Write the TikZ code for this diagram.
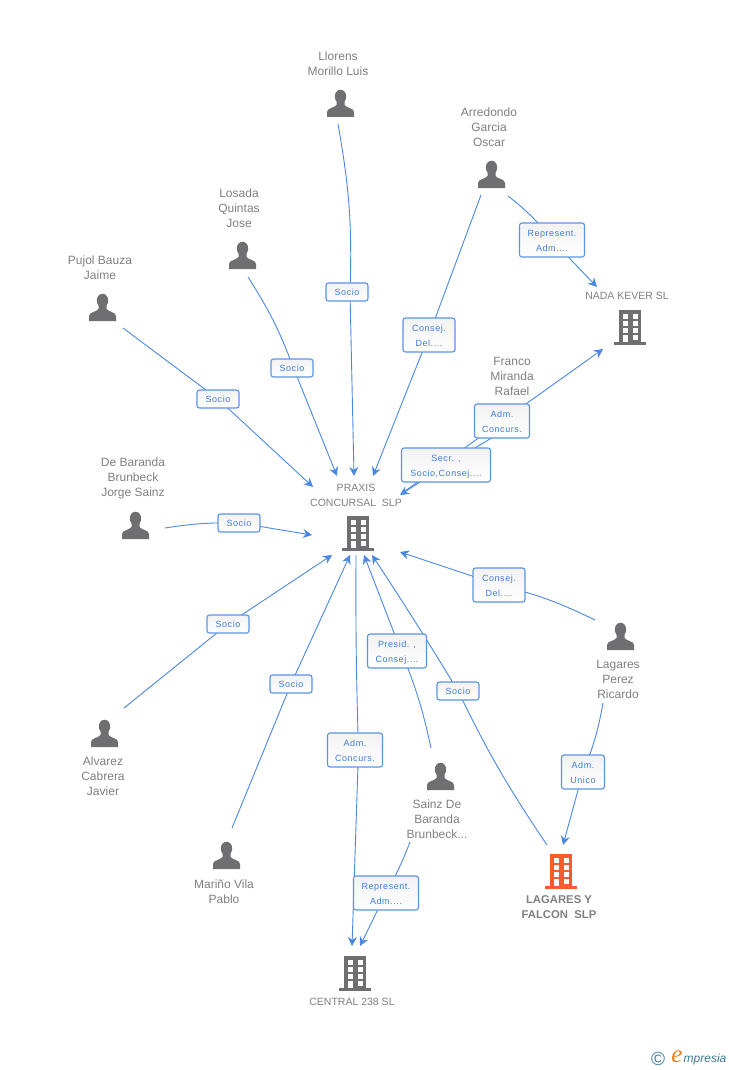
\documentclass[tikz,border=0pt]{standalone}
\usepackage{fontspec}
\setmainfont{Liberation Sans}
\usetikzlibrary{arrows.meta,backgrounds}
\newfontfamily\boxfont[LetterSpace=6]{Liberation Sans}
\newfontfamily\logoserif{Liberation Serif}
\newcommand{\twolines}[2]{\rule{0pt}{10pt}#1\\#2\rule[-2.2pt]{0pt}{2.2pt}}
\definecolor{linkblue}{HTML}{4A88E4}
\definecolor{boxblue}{HTML}{5A94E8}
\definecolor{boxtext}{HTML}{3C7DDC}
\definecolor{iconGrey}{HTML}{6F6F72}
\definecolor{nameGrey}{HTML}{808080}
\definecolor{mainOrange}{HTML}{FA5A2E}
\definecolor{logoBlue}{HTML}{3E7A96}
\definecolor{logoOrange}{HTML}{F08020}
\tikzset{
  x=1pt,y=-1pt,
  link/.style={draw=linkblue,line width=0.9pt},
  arr/.style={link,-{Stealth[length=9pt,width=9pt]}},
  lab/.style={draw=boxblue,line width=1.1pt,rounded corners=2.5pt,top color=black!5,bottom color=white,
    text=boxtext,align=center,inner sep=0pt,font=\boxfont\fontsize{9}{15}\selectfont},
  one/.style={lab,minimum width=42pt,minimum height=18pt},
  two/.style={lab,minimum height=34pt,minimum width=#1},
  person/.style={text=nameGrey,align=center,inner sep=0pt,font=\fontsize{12}{15}\selectfont},
  company/.style={text=nameGrey,align=center,inner sep=0pt,font=\fontsize{10.5}{15}\selectfont},
  mainco/.style={text=nameGrey,align=center,inner sep=0pt,font=\bfseries\fontsize{11.3}{15}\selectfont},
  personicon/.pic={
    \fill[iconGrey] (0,-7.5) ellipse (5.7 and 6.8);
    \fill[iconGrey] (-13.5,13) -- (-13.5,8) .. controls (-13.5,4) and (-6,4) .. (-4,1)
      -- (-4,-3) -- (4,-3) -- (4,1) .. controls (6,4) and (13.5,4) .. (13.5,8) -- (13.5,13) -- cycle;
  },
  buildingicon/.pic={
    \fill[pic actions] (-11,-17) rectangle (11,15);
    \fill[pic actions] (-16,15) rectangle (16,17.5);
    \foreach \yy in {-13,-6,1}{
      \fill[white] (-7,\yy) rectangle (-2,\yy+4.5);
      \fill[white] (3,\yy) rectangle (8,\yy+4.5);
    }
    \fill[white] (-7,8) rectangle (-2,15);
    \fill[white] (3,8) rectangle (8,12.5);
  },
}
\begin{document}
\begin{tikzpicture}
\useasboundingbox (0,0) rectangle (728,1070);

% person icons and names
\pic at (340.5,104) {personicon};
\node[person] (nLlorens) at (338,64) {Llorens\\Morillo Luis};
\pic at (491.5,175) {personicon};
\node[person] (nArredondo) at (489,127.5) {Arredondo\\Garcia\\Oscar};
\pic at (242.5,256) {personicon};
\node[person] (nLosada) at (239,208.5) {Losada\\Quintas\\Jose};
\pic at (102.5,308) {personicon};
\node[person] (nPujol) at (100,268) {Pujol Bauza\\Jaime};
\pic at (135.5,526) {personicon};
\node[person] (nBaranda) at (133,478.5) {De Baranda\\Brunbeck\\Jorge Sainz};
\pic at (104.5,734) {personicon};
\node[person] (nAlvarez) at (103,776.5) {Alvarez\\Cabrera\\Javier};
\pic at (226.5,856) {personicon};
\node[person] (nMarino) at (224,891.5) {Mariño Vila\\Pablo};
\pic at (440.5,777) {personicon};
\node[person] (nSainz) at (437,819.5) {Sainz De\\Baranda\\Brunbeck...};
\pic at (620.5,637) {personicon};
\node[person] (nPerez) at (618,679.5) {Lagares\\Perez\\Ricardo};
\node[person] (nFranco) at (512,376.5) {Franco\\Miranda\\Rafael};

% company icons and names
\pic[fill=iconGrey] at (358,533) {buildingicon};
\node[company] (nPraxis) at (356,495) {PRAXIS\\CONCURSAL\ \ SLP};
\pic[fill=iconGrey] at (355,973) {buildingicon};
\node[company] (nCentral) at (352,1002) {CENTRAL 238 SL};
\pic[fill=iconGrey] at (630,327) {buildingicon};
\node[company] (nNada) at (627,296) {NADA KEVER SL};
\pic[fill=mainOrange] at (561,871) {buildingicon};
\node[mainco] (nFalcon) at (559,907) {LAGARES Y\\FALCON\ \ SLP};

% edge labels
\node[one] (l1) at (347,292) {Socio};
\node[two=52pt] (l2) at (429,335) {\twolines{Consej.}{Del....}};
\node[two=65pt] (l3) at (552,240) {\twolines{Represent.}{Adm....}};
\node[one] (l4) at (292,368) {Socio};
\node[one] (l5) at (218,399) {Socio};
\node[one] (l6) at (239,523) {Socio};
\node[two=55pt] (l7) at (502,421) {\twolines{Adm.}{Concurs.}};
\node[two=89pt] (l8) at (446,465) {\twolines{Secr. ,}{Socio,Consej....}};
\node[two=52pt] (l9) at (499,585) {\twolines{Consej.}{Del....}};
\node[two=59pt] (l10) at (397,651) {\twolines{Presid. ,}{Consej....}};
\node[one] (l11) at (228,624) {Socio};
\node[one] (l12) at (291,684) {Socio};
\node[one] (l13) at (458,691) {Socio};
\node[two=55pt] (l14) at (355,750) {\twolines{Adm.}{Concurs.}};
\node[two=43pt] (l15) at (583,772) {\twolines{Adm.}{Unico}};
\node[two=65pt] (l16) at (386,893) {\twolines{Represent.}{Adm....}};

% connector ends
\coordinate (sLlorens) at (338,124);
\coordinate (sArr) at (481,195);
\coordinate (sArr2) at (508,196);
\coordinate (sLosada) at (248,277);
\coordinate (sPujol) at (123,328);
\coordinate (sBar) at (165,528);
\coordinate (sAlv) at (124,708);
\coordinate (sMar) at (232,828);
\coordinate (sPrax) at (356,555);
\coordinate (sSainz) at (431,748);
\coordinate (sSainz2) at (410,842);
\coordinate (sFalcon) at (547,845);
\coordinate (sPerez) at (595,620);
\coordinate (sPerez2) at (603,703);
\coordinate (sFranco) at (495,436);
\coordinate (sPraxNE) at (405,491);
\coordinate (t1) at (354,476);
\coordinate (t2) at (373,476);
\coordinate (t3) at (337,476);
\coordinate (t4) at (313,487);
\coordinate (t5) at (312,535);
\coordinate (t6) at (400,495);
\coordinate (t7) at (332,555);
\coordinate (t8) at (350,555);
\coordinate (t9) at (364,555);
\coordinate (t10) at (372,555);
\coordinate (t11) at (400,552);
\coordinate (tNada1) at (597,287);
\coordinate (tNada2) at (603,349);
\coordinate (tCen1) at (352,946);
\coordinate (tCen2) at (360,946);
\coordinate (tFal) at (563,845);

\begin{scope}[on background layer]
\fill[white] (0,0) rectangle (728,1070);
\draw[link] (sLlorens) to[bend left=6] ([xshift=3pt]l1.center);
\draw[arr] ([xshift=3pt]l1.center) -- (t1);
\draw[link] (sArr) -- (l2.center);
\draw[arr] (l2.center) -- (t2);
\draw[link] (sArr2) to[bend left=7] (l3.center);
\draw[arr] (l3.center) -- (tNada1);
\draw[link] (sLosada) to[bend left=6] ([xshift=1.5pt]l4.center);
\draw[arr] ([xshift=1.5pt]l4.center) -- (t3);
\draw[link] (sPujol) -- (l5.center);
\draw[arr] (l5.center) -- (t4);
\draw[link] (sBar) to[bend left=5] (l6.center);
\draw[arr] (l6.center) -- (t5);
\draw[link] (sFranco) -- (l8.center);
\draw[arr] (l8.center) -- (t6);
\draw[arr] (sPraxNE) -- (l7.center) -- (tNada2);
\draw[link] (sPerez) to[bend right=6] (l9.center);
\draw[arr] (l9.center) -- (t11);
\draw[link] (sAlv) -- (l11.center);
\draw[arr] (l11.center) -- (t7);
\draw[link] (sMar) -- (l12.center);
\draw[arr] (l12.center) -- (t8);
\draw[link] (sPrax) to[bend right=1] ([xshift=3.5pt]l14.center);
\draw[arr] ([xshift=3.5pt]l14.center) -- (tCen1);
\draw[link] (sSainz) to[bend right=5] ([xshift=4pt]l10.center);
\draw[arr] ([xshift=4pt]l10.center) -- (t9);
\draw[link] (sFalcon) to[bend left=4] (l13.center);
\draw[arr] (l13.center) to[bend right=1] (t10);
\draw[link] (sPerez2) to[bend left=6] (l15.center);
\draw[arr] (l15.center) -- (tFal);
\draw[link] (sSainz2) to[bend left=4] (l16.center);
\draw[arr] (l16.center) -- (tCen2);
\end{scope}

% logo
\node[inner sep=0pt,text=logoBlue,font=\fontsize{19}{19}\selectfont] (logoC) at (658,1059) {©};
\node[inner sep=0pt,text=logoOrange,font=\logoserif\itshape\fontsize{25}{25}\selectfont] (logoE) at (677,1057) {e};
\node[inner sep=0pt,anchor=west,text=logoBlue,font=\itshape\fontsize{12}{12}\selectfont] (logoT) at (683.5,1059) {mpresia};
\end{tikzpicture}
\end{document}
